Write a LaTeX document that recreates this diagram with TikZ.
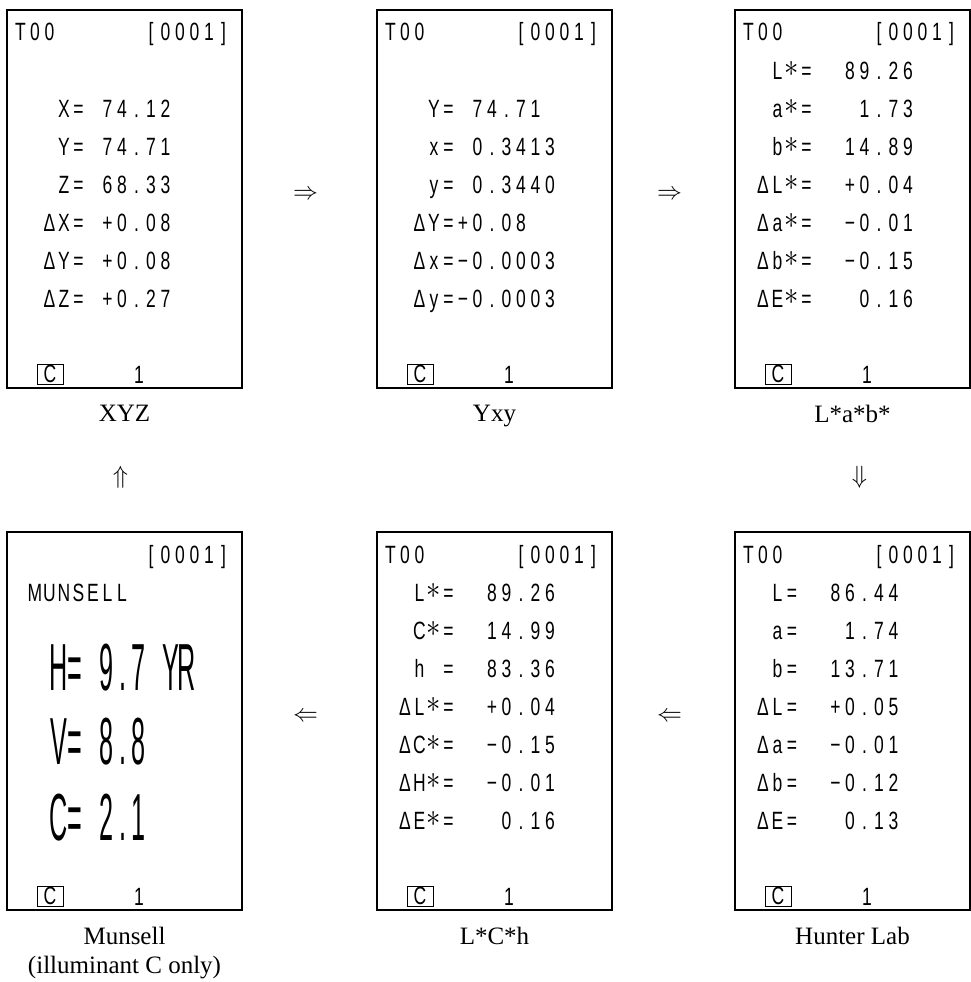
\documentclass[tikz,border=0pt]{standalone}
\usepackage{fontspec}
\usepackage{graphicx}
\setmainfont{Liberation Serif}
\newfontfamily\lcdfont[FakeStretch=0.7]{Liberation Sans}
\usetikzlibrary{positioning,calc}

% fixed character cell of the display, "|" pulls back half a cell
\newlength\lcdpitch
\setlength\lcdpitch{14.5pt}
\newcommand\st{\raisebox{2.5pt}{\scalebox{1.15}[1.3]{$\ast$}}}
\ExplSyntaxOn
\NewDocumentCommand\lcdrow{m}{\exp_args:No\tl_map_inline:nn{#1}{\str_if_eq:nnTF{##1}{|}{\hspace*{-.5\lcdpitch}}{\makebox[\lcdpitch][c]{##1}}}}
\ExplSyntaxOff

\begin{document}
\begin{tikzpicture}[x=1pt, y=-1pt,
  panel/.style={draw, line width=2.4pt, minimum width=235pt, minimum height=378pt, inner sep=0pt, outer sep=0pt},
  lcd/.style={anchor=base west, inner sep=0pt, font=\lcdfont\fontsize{25}{25}\selectfont},
  lcdbig/.style={anchor=base west, inner sep=0pt, font=\lcdfont\fontsize{36}{36}\selectfont},
  cbox/.style={draw, line width=0.9pt, minimum width=26pt, minimum height=20pt, inner sep=0pt, font=\lcdfont\fontsize{25}{25}\selectfont},
  caption/.style={align=center, inner sep=0pt, font=\fontsize{25}{29}\selectfont},
  flow/.style={inner sep=0pt, font=\fontsize{35}{35}\selectfont},
]
\useasboundingbox (0,0) rectangle (971,982);
% the six display screens
\node[panel] (xyz) at (124.5,199) {};
\node[panel] (yxy) at (494.5,199) {};
\node[panel] (lab) at (852.5,199) {};
\node[panel] (munsell) at (124.5,721) {};
\node[panel] (lch) at (494.5,721) {};
\node[panel] (hunter) at (852.5,721) {};
% screen rows
\foreach \txt [count=\k from 0] in {T00~~~~~~[0001], ~, ~~~X=~74.12, ~~~Y=~74.71, ~~~Z=~68.33, ~~ΔX=~+0.08, ~~ΔY=~+0.08, ~~ΔZ=~+0.27}
  \node[lcd] (xyz-\k) at ([shift={(6,31+38*\k)}]xyz.north west) {\lcdrow{\txt}};
\foreach \txt [count=\k from 0] in {T00~~~~~~[0001], ~, ~~~Y=~74.71, ~~~x=~0.3413, ~~~y=~0.3440, ~~ΔY=+0.08, ~~Δx=−0.0003, ~~Δy=−0.0003}
  \node[lcd] (yxy-\k) at ([shift={(6,31+38*\k)}]yxy.north west) {\lcdrow{\txt}};
\foreach \txt [count=\k from 0] in {T00~~~~~~[0001], ~~L\st=~~89.26, ~~a\st=~~~1.73, ~~b\st=~~14.89, ~ΔL\st=~~+0.04, ~Δa\st=~~−0.01, ~Δb\st=~~−0.15, ~ΔE\st=~~~0.16}
  \node[lcd] (lab-\k) at ([shift={(6,31+38*\k)}]lab.north west) {\lcdrow{\txt}};
\foreach \txt [count=\k from 0] in {T00~~~~~~[0001], ~~L=~~86.44, ~~a=~~~1.74, ~~b=~~13.71, ~ΔL=~~+0.05, ~Δa=~~−0.01, ~Δb=~~−0.12, ~ΔE=~~~0.13}
  \node[lcd] (hunter-\k) at ([shift={(6,31+38*\k)}]hunter.north west) {\lcdrow{\txt}};
\foreach \txt [count=\k from 0] in {T00~~~~~~[0001], ~~L\st=~~89.26, ~~C\st=~~14.99, ~~h~=~~83.36, ~ΔL\st=~~+0.04, ~ΔC\st=~~−0.15, ~ΔH\st=~~−0.01, ~ΔE\st=~~~0.16}
  \node[lcd] (lch-\k) at ([shift={(6,31+38*\k)}]lch.north west) {\lcdrow{\txt}};
\foreach \txt [count=\k from 0] in {~~~~~~~~~[0001], ~MUNSELL}
  \node[lcd] (munsell-\k) at ([shift={(6,31+38*\k)}]munsell.north west) {\lcdrow{\txt}};
\foreach \txt/\yy in {H=~9.7~YR/158, V=~8.8/232, C=~2.1/308}
  \node[lcdbig] (munsell-\yy) at ([shift={(43.5,\yy)}]munsell.north west) {\setlength\lcdpitch{16pt}\scalebox{1}[1.85]{\lcdrow{\txt}}};
% status line of every screen
\foreach \p in {xyz,yxy,lab,munsell,lch,hunter} {
  \node[cbox] (\p-c) at ([shift={(43,364)}]\p.north west) {C};
  \node[lcd, anchor=base] (\p-one) at ([shift={(132,373)}]\p.north west) {1};
}
% captions
\node[caption, below=17pt of xyz] (xyzcap) {XYZ};
\node[caption, below=17pt of yxy] (yxycap) {Yxy};
\node[caption, below=17pt of lab] (labcap) {L*a*b*};
\node[caption, below=17pt of munsell] (munsellcap) {Munsell\\(illuminant C only)};
\node[caption, below=17pt of lch] (lchcap) {L*C*h};
\node[caption, below=17pt of hunter] (huntercap) {Hunter Lab};
% order of the screens
\node[flow] (toyxy) at ($(xyz.east)!.5!(yxy.west)+(-4,-4)$) {$\Rightarrow$};
\node[flow] (tolab) at ($(yxy.east)!.5!(lab.west)+(-4,-4)$) {$\Rightarrow$};
\node[flow] (tohunter) at ($(labcap.south)!.5!(hunter.north)+(7,0)$) {$\Downarrow$};
\node[flow] (tolch) at ($(lch.east)!.5!(hunter.west)+(-4,-4)$) {$\Leftarrow$};
\node[flow] (tomunsell) at ($(munsell.east)!.5!(lch.west)+(-4,-4)$) {$\Leftarrow$};
\node[flow] (toxyz) at ($(xyzcap.south)!.5!(munsell.north)+(-4,0)$) {$\Uparrow$};
\end{tikzpicture}
\end{document}
